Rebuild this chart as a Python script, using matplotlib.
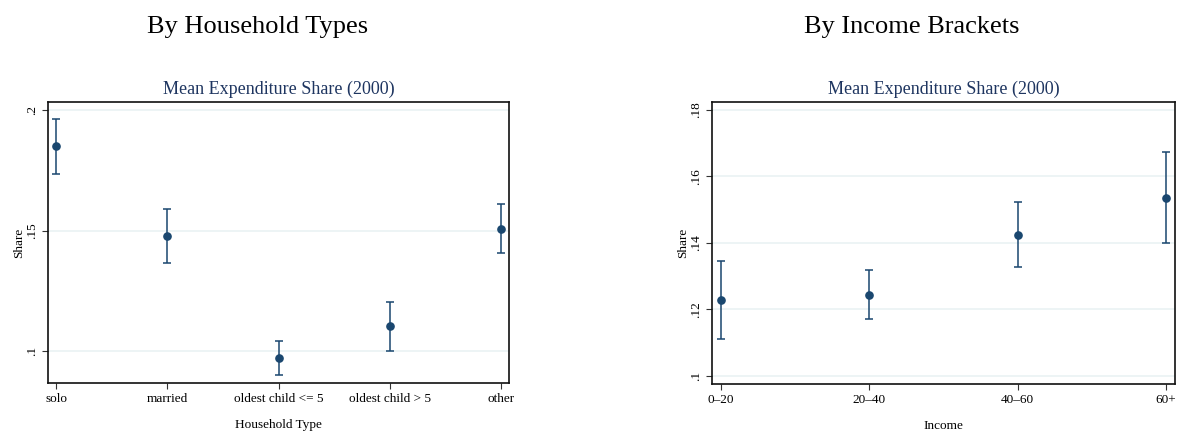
import matplotlib
matplotlib.use("Agg")
import matplotlib.pyplot as plt

plt.rcParams['font.family'] = ['Liberation Serif', 'DejaVu Serif']

# Left panel: household types
hh_types = ["solo", "married", "oldest child <= 5", "oldest child > 5", "other"]
hh_mean = [0.1849, 0.1478, 0.0971, 0.1104, 0.1508]
hh_low = [0.1733, 0.1367, 0.0902, 0.1003, 0.1409]
hh_high = [0.1963, 0.1589, 0.1041, 0.1205, 0.1609]
hh_ticks = [0.1, 0.15, 0.2]
hh_ticklabels = [".1", ".15", ".2"]

# Right panel: income brackets
inc_groups = ["0\u201320", "20\u201340", "40\u201360", "60+"]
inc_mean = [0.1227, 0.1242, 0.1425, 0.1535]
inc_low = [0.1111, 0.1170, 0.1327, 0.1398]
inc_high = [0.1344, 0.1317, 0.1524, 0.1672]
inc_ticks = [0.1, 0.12, 0.14, 0.16, 0.18]
inc_ticklabels = [".1", ".12", ".14", ".16", ".18"]

navy = "#1a476f"
grid_col = "#eaf2f3"
title_col = "#1e3560"

fig = plt.figure(figsize=(11.83, 4.37), dpi=100)
W, H = 1183, 437


def panel(rect, cats, mean, low, high, ticks, ticklabels, ylim, xlim, xlabel):
    ax = fig.add_axes(rect)
    x = list(range(len(cats)))
    yerr = [[m - l for m, l in zip(mean, low)], [h - m for h, m in zip(high, mean)]]
    ax.errorbar(x, mean, yerr=yerr, fmt="o", color=navy, ecolor=navy,
                elinewidth=1.1, capsize=2.6, capthick=1.1, markersize=5.2, zorder=3)
    ax.set_xlim(xlim)
    ax.set_ylim(ylim)
    ax.set_xticks(x)
    ax.set_xticklabels(cats, fontsize=9.5)
    ax.set_yticks(ticks)
    ax.set_yticklabels(ticklabels, fontsize=9.5, rotation=90, va="center")
    ax.yaxis.grid(True, color=grid_col, linewidth=1.2)
    ax.set_axisbelow(True)
    ax.tick_params(length=4, width=0.8, color="#333333", pad=3)
    for s in ax.spines.values():
        s.set_linewidth(1.2)
        s.set_color("#111111")
    ax.set_ylabel("Share", fontsize=9.5, labelpad=1)
    ax.set_xlabel(xlabel, fontsize=9.5, labelpad=10)
    ax.set_title("Mean Expenditure Share (2000)", fontsize=13, color=title_col, pad=6)
    return ax


panel([48 / W, 1 - 383 / H, 461 / W, 281 / H], hh_types, hh_mean, hh_low, hh_high,
      hh_ticks, hh_ticklabels, (0.0869, 0.2033), (-0.072, 4.072), "Household Type")
panel([712 / W, 1 - 384 / H, 463 / W, 282 / H], inc_groups, inc_mean, inc_low, inc_high,
      inc_ticks, inc_ticklabels, (0.0975, 0.1824), (-0.059, 3.061), "Income")

fig.text(258 / W, 1 - 27 / H, "By Household Types", fontsize=19, ha="center", va="center")
fig.text(912 / W, 1 - 27 / H, "By Income Brackets", fontsize=19, ha="center", va="center")

fig.savefig("out.png", dpi=100)
